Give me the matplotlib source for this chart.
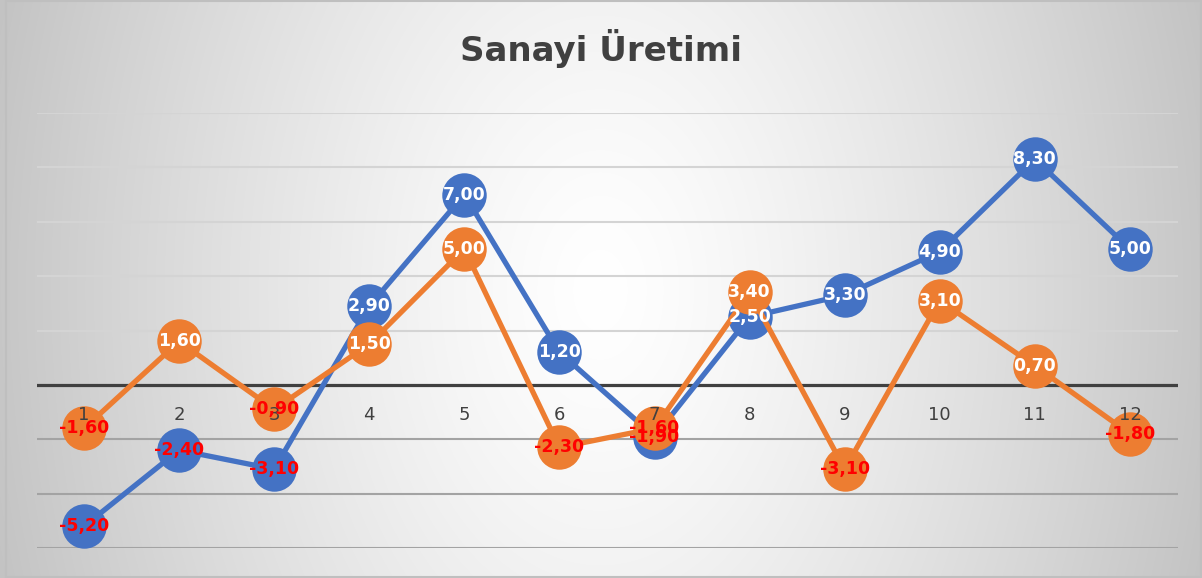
import numpy as np
import matplotlib
matplotlib.use("Agg")
import matplotlib.pyplot as plt
from matplotlib.patches import Rectangle

# veriler
aylar = [str(i) for i in range(1, 13)]
seri_mavi = [-5.2, -2.4, -3.1, 2.9, 7.0, 1.2, -1.9, 2.5, 3.3, 4.9, 8.3, 5.0]
seri_turuncu = [-1.6, 1.6, -0.9, 1.5, 5.0, -2.3, -1.6, 3.4, -3.1, 3.1, 0.7, -1.8]
y_ticks = [-6, -4, -2, 0, 2, 4, 6, 8, 10]
baslik = "Sanayi Üretimi"

mavi = "#4472C4"
turuncu = "#ED7D31"
koyu = "#404040"

W, H = 1202, 578
fig = plt.figure(figsize=(W / 100, H / 100), dpi=100)

# arka plan - radyal gecis
bg = fig.add_axes([0, 0, 1, 1], zorder=-10)
xx, yy = np.meshgrid(np.arange(W), np.arange(H))
r = np.sqrt(((xx - 600) / 600.0) ** 2 + ((yy - 290) / 900.0) ** 2)
b = 1 - 0.22 * np.clip(r, 0, 1.1) ** 1.3
img = np.dstack([b, b, b])
bg.imshow(img, extent=[0, W, H, 0], aspect="auto")
bg.add_patch(Rectangle((6, 1), W - 7, H - 2, fill=False, edgecolor="#bfbfbf", lw=1.5))
bg.set_xlim(0, W)
bg.set_ylim(H, 0)
bg.axis("off")

fig.text(0.5, 1 - 48 / H, baslik, ha="center", va="center",
         fontsize=24.5, fontweight="bold", color=koyu)

ax = fig.add_axes([36.5 / W, 30 / H, 1141 / W, 435 / H])
ax.set_facecolor("none")
x = np.arange(1, len(aylar) + 1)
ax.set_xlim(0.5, len(aylar) + 0.5)
ax.set_ylim(min(y_ticks), max(y_ticks))
for s in ax.spines.values():
    s.set_visible(False)
ax.set_xticks([])
ax.set_yticks([])

for t in y_ticks:
    if t == 0:
        continue
    renk = "#d4d4d4" if t > 0 else "#a3a3a3"
    ax.axhline(t, color=renk, lw=1.5, zorder=1)
ax.axhline(0, color=koyu, lw=2.3, zorder=2)

ax.plot(x, seri_mavi, color=mavi, lw=3.8, marker="o", ms=32,
        markeredgewidth=0, zorder=3)
ax.plot(x, seri_turuncu, color=turuncu, lw=3.8, marker="o", ms=32,
        markeredgewidth=0, zorder=4)

for xi, etiket in zip(x, aylar):
    ax.annotate(etiket, (xi, 0), xytext=(0, -22), textcoords="offset points",
                ha="center", va="center", fontsize=13, color=koyu, zorder=5)

for seri in (seri_mavi, seri_turuncu):
    for xi, v in zip(x, seri):
        ax.text(xi, v, f"{v:.2f}".replace(".", ","), ha="center", va="center",
                fontsize=12.5, fontweight="bold",
                color="white" if v >= 0 else "#FF0000", zorder=6)

fig.savefig("out.png", dpi=100)
